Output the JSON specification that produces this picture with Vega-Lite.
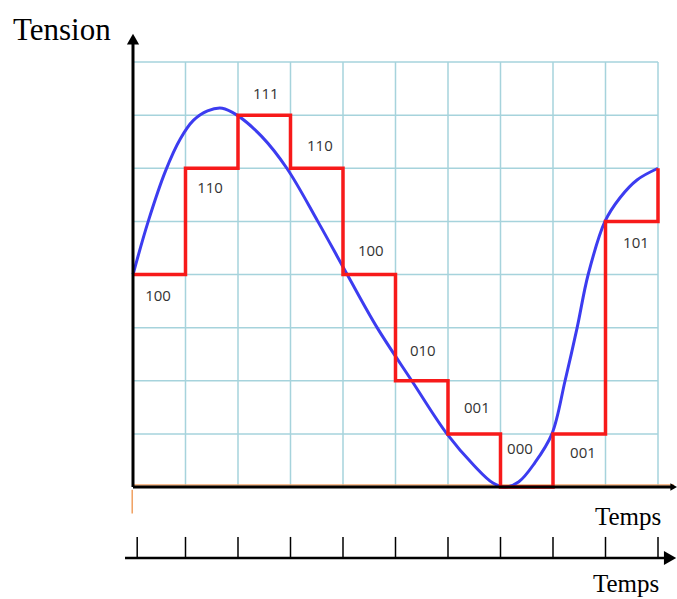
{
  "$schema": "https://vega.github.io/schema/vega-lite/v6.json",
  "width": 677,
  "height": 599,
  "padding": 0,
  "autosize": {"type": "none"},
  "background": "white",
  "config": {"view": {"stroke": null}},
  "datasets": {
    "vgrid": [{"x": 1}, {"x": 2}, {"x": 3}, {"x": 4}, {"x": 5}, {"x": 6}, {"x": 7}, {"x": 8}, {"x": 9}, {"x": 10}],
    "hgrid": [{"y": 1}, {"y": 2}, {"y": 3}, {"y": 4}, {"y": 5}, {"y": 6}, {"y": 7}, {"y": 8}],
    "ticks": [{"x": 0.08}, {"x": 1}, {"x": 2}, {"x": 3}, {"x": 4}, {"x": 5}, {"x": 6}, {"x": 7}, {"x": 8}, {"x": 9}, {"x": 10}],
    "signal": [
      {"x": 0, "y": 4}, {"x": 0.29, "y": 5}, {"x": 0.62, "y": 5.95}, {"x": 0.9, "y": 6.55},
      {"x": 1.15, "y": 6.9}, {"x": 1.42, "y": 7.08}, {"x": 1.7, "y": 7.13}, {"x": 1.98, "y": 7.0},
      {"x": 2.45, "y": 6.6}, {"x": 2.93, "y": 6}, {"x": 3.52, "y": 5}, {"x": 4.08, "y": 4},
      {"x": 4.65, "y": 3}, {"x": 5.31, "y": 2}, {"x": 5.98, "y": 1}, {"x": 6.5, "y": 0.4},
      {"x": 6.85, "y": 0.08}, {"x": 7.09, "y": 0}, {"x": 7.35, "y": 0.1}, {"x": 7.65, "y": 0.45},
      {"x": 7.98, "y": 1}, {"x": 8.23, "y": 2},
      {"x": 8.46, "y": 3}, {"x": 8.67, "y": 4}, {"x": 8.99, "y": 5}, {"x": 9.28, "y": 5.45},
      {"x": 9.6, "y": 5.78}, {"x": 10, "y": 6}
    ],
    "quant": [
      {"x": 0, "y": 4}, {"x": 1, "y": 6}, {"x": 2, "y": 7}, {"x": 3, "y": 6}, {"x": 4, "y": 4},
      {"x": 5, "y": 2}, {"x": 6, "y": 1}, {"x": 7, "y": 0}, {"x": 8, "y": 1}, {"x": 9, "y": 5}, {"x": 10, "y": 6}
    ],
    "codes": [
      {"x": 0.476, "y": 3.6, "code": "100"},
      {"x": 1.467, "y": 5.63, "code": "110"},
      {"x": 2.53, "y": 7.4, "code": "111"},
      {"x": 3.56, "y": 6.42, "code": "110"},
      {"x": 4.53, "y": 4.44, "code": "100"},
      {"x": 5.52, "y": 2.56, "code": "010"},
      {"x": 6.55, "y": 1.49, "code": "001"},
      {"x": 7.37, "y": 0.715, "code": "000"},
      {"x": 8.57, "y": 0.64, "code": "001"},
      {"x": 9.58, "y": 4.59, "code": "101"}
    ],
    "arrowY": [{"x": 0, "y": 8.43}],
    "arrowX": [{"x": 10.3, "y": 0}],
    "arrowT": [{"x": 10.23, "y": -1.336}],
    "titles": [
      {"x": -2.286, "y": 8.414, "label": "Tension"}
    ],
    "temps": [
      {"x": 8.8, "y": -0.715, "label": "Temps"},
      {"x": 8.76, "y": -1.985, "label": "Temps"}
    ],
    "one": [{"a": 1}]
  },
  "layer": [
    {
      "data": {"name": "vgrid"},
      "mark": {"type": "rule", "color": "#a6d3dc", "strokeWidth": 1.5},
      "encoding": {
        "x": {"field": "x", "type": "quantitative", "scale": {"domain": [-2.5333, 10.3619], "nice": false, "zero": false}, "axis": null},
        "y": {"datum": 0, "type": "quantitative", "scale": {"domain": [-2.1082, 9.1671], "nice": false, "zero": false}, "axis": null},
        "y2": {"datum": 8}
      }
    },
    {
      "data": {"name": "hgrid"},
      "mark": {"type": "rule", "color": "#a6d3dc", "strokeWidth": 1.5},
      "encoding": {
        "y": {"field": "y", "type": "quantitative"},
        "x": {"datum": 0, "type": "quantitative"},
        "x2": {"datum": 10}
      }
    },
    {
      "data": {"name": "one"},
      "mark": {"type": "rule", "color": "#f4a66a", "strokeWidth": 1.5},
      "encoding": {"x": {"datum": 0, "type": "quantitative"}, "x2": {"datum": 10.3}, "y": {"datum": 0.04, "type": "quantitative"}}
    },
    {
      "data": {"name": "one"},
      "mark": {"type": "rule", "color": "#f0a060", "strokeWidth": 1.5},
      "encoding": {"x": {"datum": -0.015, "type": "quantitative"}, "y": {"datum": -0.05, "type": "quantitative"}, "y2": {"datum": -0.5}}
    },
    {
      "data": {"name": "signal"},
      "mark": {"type": "line", "color": "#3c3cf0", "strokeWidth": 3, "interpolate": "catmull-rom"},
      "encoding": {"x": {"field": "x", "type": "quantitative"}, "y": {"field": "y", "type": "quantitative"}, "order": {"field": "x"}}
    },
    {
      "data": {"name": "quant"},
      "mark": {"type": "line", "color": "#f71a1a", "strokeWidth": 3.5, "interpolate": "step-after"},
      "encoding": {"x": {"field": "x", "type": "quantitative"}, "y": {"field": "y", "type": "quantitative"}, "order": {"field": "x"}}
    },
    {
      "data": {"name": "one"},
      "mark": {"type": "rule", "color": "black", "strokeWidth": 3},
      "encoding": {"x": {"datum": 0, "type": "quantitative"}, "y": {"datum": 0, "type": "quantitative"}, "y2": {"datum": 8.35}}
    },
    {
      "data": {"name": "one"},
      "mark": {"type": "rule", "color": "black", "strokeWidth": 3},
      "encoding": {"y": {"datum": 0, "type": "quantitative"}, "x": {"datum": 0, "type": "quantitative"}, "x2": {"datum": 10.28}}
    },
    {
      "data": {"name": "arrowY"},
      "mark": {"type": "point", "shape": "triangle-up", "filled": true, "color": "black", "opacity": 1, "size": 150},
      "encoding": {"x": {"field": "x", "type": "quantitative"}, "y": {"field": "y", "type": "quantitative"}}
    },
    {
      "data": {"name": "arrowX"},
      "mark": {"type": "point", "shape": "triangle-right", "filled": true, "color": "black", "opacity": 1, "size": 60},
      "encoding": {"x": {"field": "x", "type": "quantitative"}, "y": {"field": "y", "type": "quantitative"}}
    },
    {
      "data": {"name": "one"},
      "mark": {"type": "rule", "color": "black", "strokeWidth": 2.5},
      "encoding": {"y": {"datum": -1.336, "type": "quantitative"}, "x": {"datum": -0.152, "type": "quantitative"}, "x2": {"datum": 10.15}}
    },
    {
      "data": {"name": "ticks"},
      "mark": {"type": "rule", "color": "black", "strokeWidth": 1.5},
      "encoding": {"x": {"field": "x", "type": "quantitative"}, "y": {"datum": -0.94, "type": "quantitative"}, "y2": {"datum": -1.336}}
    },
    {
      "data": {"name": "arrowT"},
      "mark": {"type": "point", "shape": "triangle-right", "filled": true, "color": "black", "opacity": 1, "size": 200},
      "encoding": {"x": {"field": "x", "type": "quantitative"}, "y": {"field": "y", "type": "quantitative"}}
    },
    {
      "data": {"name": "codes"},
      "mark": {"type": "text", "font": "Open Sans", "fontSize": 15, "color": "#333333", "align": "center", "baseline": "middle"},
      "encoding": {"x": {"field": "x", "type": "quantitative"}, "y": {"field": "y", "type": "quantitative"}, "text": {"field": "code"}}
    },
    {
      "data": {"name": "titles"},
      "mark": {"type": "text", "font": "Liberation Serif", "fontSize": 31, "color": "black", "align": "left", "baseline": "alphabetic"},
      "encoding": {"x": {"field": "x", "type": "quantitative"}, "y": {"field": "y", "type": "quantitative"}, "text": {"field": "label"}}
    },
    {
      "data": {"name": "temps"},
      "mark": {"type": "text", "font": "Liberation Serif", "fontSize": 25, "color": "black", "align": "left", "baseline": "alphabetic"},
      "encoding": {"x": {"field": "x", "type": "quantitative"}, "y": {"field": "y", "type": "quantitative"}, "text": {"field": "label"}}
    }
  ]
}
